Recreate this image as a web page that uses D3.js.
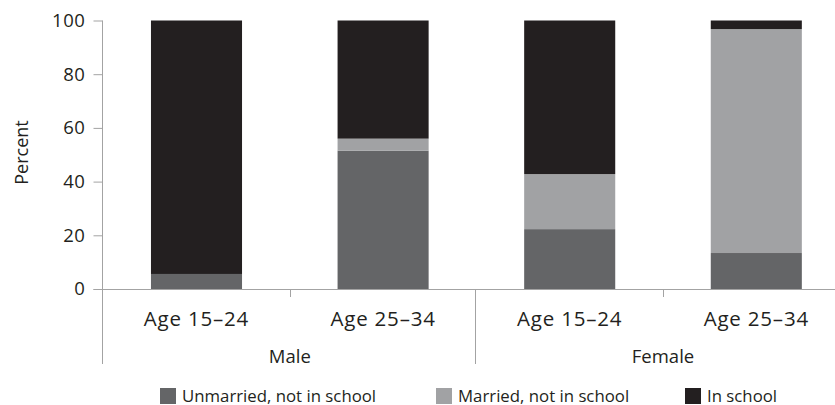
<!DOCTYPE html>
<html>
<head>
<meta charset="utf-8">
<script src="https://cdn.jsdelivr.net/npm/d3@7"></script>
<style>
  html, body { margin: 0; padding: 0; background: #fff; }
  svg { display: block; }
  text { font-family: "Open Sans", sans-serif; fill: #231f20; }
</style>
</head>
<body>
<svg id="chart" width="835" height="405"></svg>
<script>
// ---- data ----
const groups = ["Male", "Female"];
const ageGroups = ["Age 15–24", "Age 25–34"];
const seriesNames = ["Unmarried, not in school", "Married, not in school", "In school"];
const unmarried = [5.6, 51.5, 22.3, 13.4];
const married   = [0,    4.5, 20.5, 83.4];
const inSchool  = [94.4, 44.0, 57.2, 3.2];
const yTicks = [0, 20, 40, 60, 80, 100];
const seriesColors = ["#646567", "#a1a2a4", "#231f20"];

// ---- build ----
const cats = [];
groups.forEach(g => ageGroups.forEach(a => cats.push({ key: g + "|" + a, group: g, age: a })));
const rows = cats.map((c, i) => ({
  key: c.key,
  [seriesNames[0]]: unmarried[i],
  [seriesNames[1]]: married[i],
  [seriesNames[2]]: inSchool[i]
}));

const svg = d3.select("#chart");
const axisColor = "#a3a3a3";

const x = d3.scaleBand()
  .domain(cats.map(c => c.key))
  .range([103.2, 849.6])
  .paddingInner(0.512)
  .paddingOuter(0.256);
const y = d3.scaleLinear().domain([0, 100]).range([289, 20.5]);

const stack = d3.stack().keys(seriesNames);
const stacked = stack(rows);

svg.append("g")
  .selectAll("g")
  .data(stacked)
  .join("g")
  .attr("fill", (d, i) => seriesColors[i])
  .selectAll("rect")
  .data(d => d)
  .join("rect")
  .attr("x", d => x(d.data.key))
  .attr("width", x.bandwidth())
  .attr("y", d => y(d[1]))
  .attr("height", d => y(d[0]) - y(d[1]));

// y axis
const yAxis = d3.axisLeft(y).tickValues(yTicks).tickSize(9).tickPadding(8);
const gy = svg.append("g").attr("transform", "translate(102.5,0)").call(yAxis);
gy.select(".domain").attr("stroke", axisColor).attr("d", "M0," + y(100) + "V" + y(0));
gy.selectAll(".tick line").attr("stroke", axisColor);
gy.selectAll(".tick text")
  .style("font-family", '"Open Sans", sans-serif')
  .style("font-size", "18.5px")
  .attr("fill", "#231f20")
  .attr("letter-spacing", "0.6px");

// x axis baseline
svg.append("line")
  .attr("x1", 93.5).attr("x2", 850)
  .attr("y1", y(0) + 0.5).attr("y2", y(0) + 0.5)
  .attr("stroke", axisColor);

// category labels
const step = x.step();
const start = x.range()[0];
svg.append("g").selectAll("text")
  .data(cats)
  .join("text")
  .attr("x", d => x(d.key) + x.bandwidth() / 2)
  .attr("y", 326)
  .attr("text-anchor", "middle")
  .style("font-size", "20.5px")
  .attr("letter-spacing", "0.8px")
  .text(d => d.age);

// ticks between age groups within a group
const gi = d3.range(groups.length);
svg.append("g").selectAll("line")
  .data(gi)
  .join("line")
  .attr("x1", i => Math.round(start + step * (i * 2 + 1)) + 0.5)
  .attr("x2", i => Math.round(start + step * (i * 2 + 1)) + 0.5)
  .attr("y1", y(0))
  .attr("y2", y(0) + 8)
  .attr("stroke", axisColor);

// group separators (long)
svg.append("g").selectAll("line")
  .data(d3.range(groups.length + 1))
  .join("line")
  .attr("x1", i => Math.round(start + step * i * 2) - 0.5)
  .attr("x2", i => Math.round(start + step * i * 2) - 0.5)
  .attr("y1", y(0))
  .attr("y2", 364)
  .attr("stroke", axisColor);

// group labels
svg.append("g").selectAll("text")
  .data(groups)
  .join("text")
  .attr("x", (d, i) => start + step * (i * 2 + 1))
  .attr("y", 363)
  .attr("text-anchor", "middle")
  .style("font-size", "18.5px")
  .text(d => d);

// y label
svg.append("text")
  .attr("transform", "translate(28,152.5) rotate(-90)")
  .attr("text-anchor", "middle")
  .style("font-size", "18px")
  .text("Percent");

// legend
const legendX = [160, 436, 685];
const lg = svg.append("g").selectAll("g")
  .data(seriesNames)
  .join("g")
  .attr("transform", (d, i) => "translate(" + legendX[i] + ",0)");
lg.append("rect")
  .attr("x", 0).attr("y", 388)
  .attr("width", 16).attr("height", 16)
  .attr("fill", (d, i) => seriesColors[i]);
lg.append("text")
  .attr("x", 22).attr("y", 401.5)
  .style("font-size", "16.8px")
  .text(d => d);
</script>
</body>
</html>
